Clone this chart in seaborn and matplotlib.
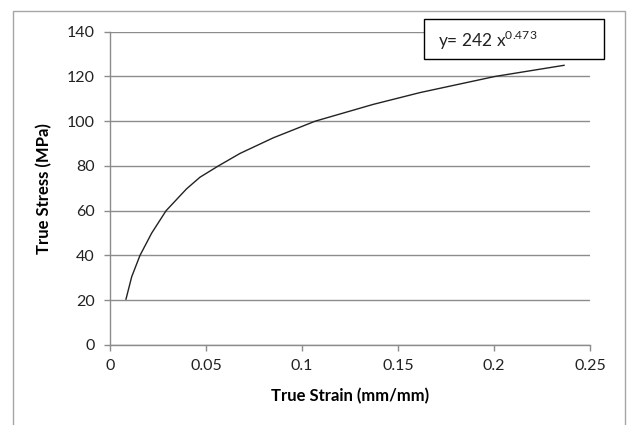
import matplotlib
matplotlib.use("Agg")
import matplotlib.pyplot as plt
from matplotlib.patches import Rectangle
import seaborn as sns

# Valores (deformação verdadeira x tensão verdadeira)
strain = [0.0083, 0.0113, 0.0156, 0.0217, 0.0292, 0.0399, 0.0469, 0.0564,
          0.0677, 0.0851, 0.1068, 0.137, 0.1615, 0.2005, 0.2366]
stress = [20.4, 30.5, 40, 50, 60, 69.8, 75, 80,
          85.6, 92.6, 100, 107.5, 112.8, 120, 125]

x_ticks = [0, 0.05, 0.1, 0.15, 0.2, 0.25]
x_tick_labels = ["0", "0.05", "0.1", "0.15", "0.2", "0.25"]
y_ticks = [0, 20, 40, 60, 80, 100, 120, 140]

equation = r"y= 242 x$^{0.473}$"

sns.set_style("white")
plt.rcParams['font.family'] = ['Lato', 'DejaVu Sans']
plt.rcParams['mathtext.fontset'] = 'custom'
plt.rcParams['mathtext.rm'] = 'Lato'

W, H = 629, 425
fig = plt.figure(figsize=(W / 100, H / 100), dpi=100)
ax = fig.add_axes([110 / W, 1 - 345 / H, 480 / W, 313.3 / H])

sns.lineplot(x=strain, y=stress, ax=ax, color="#222222", linewidth=1.0)

ax.set_xlim(0, 0.25)
ax.set_ylim(0, 140)
ax.set_xticks(x_ticks)
ax.set_xticklabels(x_tick_labels)
ax.set_yticks(y_ticks)

grid_c = "#8c8c8c"
ax.yaxis.grid(True, color=grid_c, linewidth=1.0)
ax.xaxis.grid(False)
ax.set_axisbelow(True)
for s in ["top", "right"]:
    ax.spines[s].set_visible(False)
for s in ["left", "bottom"]:
    ax.spines[s].set_color(grid_c)
    ax.spines[s].set_linewidth(1.0)

ax.tick_params(axis="x", direction="out", length=4, width=1, color=grid_c,
               labelsize=11.5, pad=6, labelcolor="#222222")
ax.tick_params(axis="y", direction="out", length=4, width=1, color=grid_c,
               labelsize=11.5, pad=7, labelcolor="#222222")
ax.xaxis.set_ticks_position("bottom")
ax.yaxis.set_ticks_position("left")

ax.set_xlabel("True Strain (mm/mm)", fontsize=12, fontweight="bold", color="black")
ax.set_ylabel("True Stress (MPa)", fontsize=12, fontweight="bold", color="black")
ax.xaxis.set_label_coords(0.5, -0.137)
ax.yaxis.set_label_coords(-0.121, 0.5)

# moldura externa da área do gráfico
fig.patches.append(Rectangle((13 / W, -0.05), (625 - 13) / W, 1 - 11 / H + 0.05,
                             transform=fig.transFigure, fill=False,
                             edgecolor="#a6a6a6", linewidth=1.0))

# caixa da equação
fig.patches.append(Rectangle((424 / W, 1 - 59 / H), (604 - 424) / W, 40 / H,
                             transform=fig.transFigure, facecolor="white",
                             edgecolor="black", linewidth=1.0, zorder=5))
fig.text(438 / W, 1 - 40 / H, equation, fontsize=12.5, va="center", ha="left",
         color="#222222", zorder=6)

fig.savefig("out.png", dpi=100)
